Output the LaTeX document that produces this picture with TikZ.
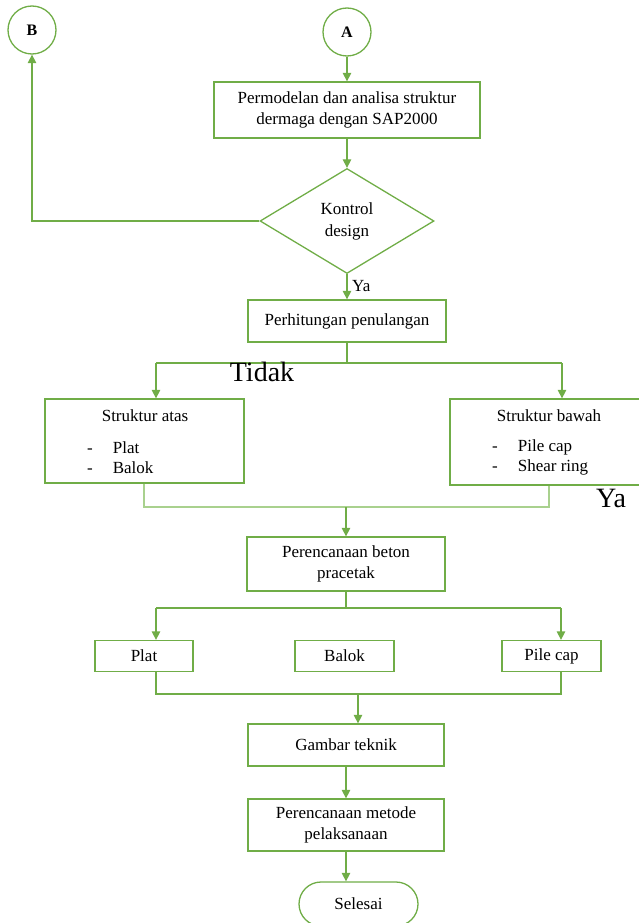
\documentclass[tikz,border=0pt]{standalone}
\usepackage{fontspec}
\setmainfont{Liberation Serif}
\usepackage{tikz}
\usetikzlibrary{arrows.meta,positioning,shapes.geometric}
\definecolor{leaf}{RGB}{112,173,71}
\definecolor{leaflight}{RGB}{169,209,142}
\tikzset{
  flowbox/.style={draw=leaf, line width=1.3pt, fill=white, align=center, inner sep=2pt,
    font=\fontsize{17}{21}\selectfont},
  joint/.style={circle, draw=leaf, line width=1.3pt, minimum size=48pt, inner sep=0pt,
    font=\fontsize{16}{16}\selectfont\bfseries},
  decision/.style={diamond, draw=leaf, line width=1.3pt, minimum width=174pt, minimum height=105pt,
    inner sep=0pt, align=center, font=\fontsize{17}{22}\selectfont},
  flow/.style={draw=leaf, line width=1.3pt, -{Triangle[length=8.5pt,width=8.5pt]}},
  link/.style={draw=leaf, line width=1.3pt},
  plain/.style={inner sep=0pt, font=\fontsize{17}{20.5}\selectfont},
  bigword/.style={inner sep=0pt, font=\fontsize{28}{28}\selectfont}
}

\begin{document}
\begin{tikzpicture}[x=1pt,y=-1pt]
  \useasboundingbox (0,0) rectangle (639,923);

  % connectors and top of the chart
  \node[joint] (B) at (32,30) {B};
  \node[joint] (A) at (347,32) {A};
  \node[flowbox, minimum width=266pt, minimum height=56pt] (model) at (347,110)
    {Permodelan dan analisa struktur\\dermaga dengan SAP2000};
  \node[decision] (kontrol) at (347,221) {Kontrol\\design};
  \node[flowbox, minimum width=198pt, minimum height=42pt] (hitung) at (347,321) {Perhitungan penulangan};

  \draw[flow] (A) -- (model);
  \draw[flow] (model) -- (kontrol);
  \draw[flow] (kontrol.west) -| (B);
  \draw[flow] (kontrol) -- (hitung);
  \node[plain, anchor=base west] (yabawah) at (352,291) {Ya};

  % struktur atas / bawah
  \node[flowbox, minimum width=199pt, minimum height=84pt] (atas) at (144.5,441) {};
  \node[plain] (atasjudul) at (145,416) {Struktur atas};
  \node[plain, anchor=west] (ataslist) at (87,459.5)
    {\begin{tabular}{@{}l@{\hspace{20pt}}l@{}}-&Plat\\-&Balok\end{tabular}};
  \node[flowbox, minimum width=194pt, minimum height=86pt] (bawah) at (547,442) {};
  \node[plain] (bawahjudul) at (549,416) {Struktur bawah};
  \node[plain, anchor=west] (bawahlist) at (492,457.5)
    {\begin{tabular}{@{}l@{\hspace{20pt}}l@{}}-&Pile cap\\-&Shear ring\end{tabular}};

  \coordinate (j1) at (347,363);
  \coordinate (j1l) at (156,363);
  \coordinate (j1r) at (562,363);
  \draw[link] (hitung) -- (j1);
  \draw[link] (j1l) -- (j1r);
  \draw[flow] (j1l) -- (j1l |- atas.north);
  \draw[flow] (j1r) -- (j1r |- bawah.north);
  \node[bigword, anchor=base] (tidak) at (262,381) {Tidak};
  \node[bigword, anchor=base] (yakanan) at (611,507) {Ya};

  % beton pracetak
  \node[flowbox, minimum width=198pt, minimum height=54pt] (beton) at (346,564)
    {Perencanaan beton\\pracetak};
  \coordinate (j2l) at (144,507);
  \coordinate (j2r) at (549,507);
  \coordinate (j2) at (346,507);
  \draw[draw=leaflight, line width=1.3pt] (j2l |- atas.south) -- (j2l) -- (j2r) -- (j2r |- bawah.south);
  \draw[flow] (j2) -- (beton);

  \node[flowbox, minimum width=98pt, minimum height=31pt] (plat) at (144,656) {Plat};
  \node[flowbox, minimum width=99pt, minimum height=31pt] (balok) at (344.5,656) {Balok};
  \node[flowbox, minimum width=99pt, minimum height=31pt] (pilecap) at (551.5,656) {Pile cap};

  \coordinate (j3) at (346,608);
  \coordinate (j3l) at (156,608);
  \coordinate (j3r) at (561,608);
  \draw[link] (beton) -- (j3);
  \draw[link] (j3l) -- (j3r);
  \draw[flow] (j3l) -- (j3l |- plat.north);
  \draw[flow] (j3r) -- (j3r |- pilecap.north);

  % bottom of the chart
  \node[flowbox, minimum width=196pt, minimum height=42pt] (gambar) at (346,745) {Gambar teknik};
  \node[flowbox, minimum width=196pt, minimum height=52pt] (metode) at (346,825)
    {Perencanaan metode\\pelaksanaan};
  \node[flowbox, minimum width=119pt, minimum height=44pt, rounded corners=22pt] (selesai) at (358.5,904)
    {Selesai};

  \coordinate (j4l) at (156,694);
  \coordinate (j4r) at (561,694);
  \coordinate (j4) at (358,694);
  \draw[link] (j4l |- plat.south) -- (j4l) -- (j4r) -- (j4r |- pilecap.south);
  \draw[flow] (j4) -- (j4 |- gambar.north);
  \draw[flow] (gambar) -- (metode);
  \draw[flow] (metode.south) -- (metode.south |- selesai.north);
\end{tikzpicture}
\end{document}
